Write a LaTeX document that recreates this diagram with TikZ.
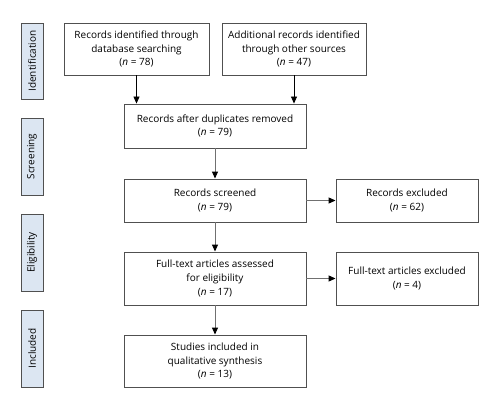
\documentclass[tikz,border=0pt]{standalone}
\usepackage{fontspec}
\setmainfont{Open Sans}
\usetikzlibrary{arrows.meta}
\definecolor{lblue}{HTML}{DCE6F2}
\definecolor{bordergray}{HTML}{505050}
\definecolor{linegray}{HTML}{707070}
\tikzset{
  box/.style={draw=bordergray, line width=0.9pt, fill=white, align=center, inner sep=0pt,
    font=\fontsize{10}{13.8}\selectfont},
  phase/.style={draw=bordergray, line width=1pt, fill=lblue, inner sep=0pt,
    minimum width=22pt, minimum height=77pt, font=\fontsize{10}{11}\selectfont},
  arr/.style={draw=linegray, line width=1pt, -{Triangle[length=7pt,width=6pt,color=black]}},
  arrk/.style={draw=black, line width=0.8pt, -{Triangle[length=7pt,width=6pt,color=black]}}
}
\begin{document}
\begin{tikzpicture}[x=1pt,y=-1pt]
\useasboundingbox (0,0) rectangle (498,410);
% phase labels
\node[phase, minimum height=76pt] (idl) at (32,61) {\rotatebox{90}{Identification}};
\node[phase] (scl) at (32,156.5) {\rotatebox{90}{Screening}};
\node[phase] (ell) at (32,252.5) {\rotatebox{90}{Eligibility}};
\node[phase] (inl) at (32,348.5) {\rotatebox{90}{Included}};
% boxes
\node[box, minimum width=145pt, minimum height=52pt] (db) at (136.5,49)
  {Records identified through\\database searching\\(\textit{n} = 78)};
\node[box, minimum width=144pt, minimum height=52pt] (oth) at (294,49)
  {Additional records identified\\through other sources\\(\textit{n} = 47)};
\node[box, minimum width=182pt, minimum height=44pt] (dup) at (215,126)
  {Records after duplicates removed\\(\textit{n} = 79)};
\node[box, minimum width=182pt, minimum height=43pt] (scr) at (215,200.5)
  {Records screened\\(\textit{n} = 79)};
\node[box, minimum width=142pt, minimum height=43pt] (exc) at (407,200.5)
  {Records excluded\\(\textit{n} = 62)};
\node[box, minimum width=182pt, minimum height=53pt] (ft) at (215,278.5)
  {Full-text articles assessed\\for eligibility\\(\textit{n} = 17)};
\node[box, minimum width=142pt, minimum height=53pt] (fte) at (407,278.5)
  {Full-text articles excluded\\(\textit{n} = 4)};
\node[box, minimum width=182pt, minimum height=52pt] (stu) at (215,361)
  {Studies included in\\qualitative synthesis\\(\textit{n} = 13)};
% connectors
\draw[arrk] (db.south) -- (db.south |- dup.north);
\draw[arrk] (oth.south) -- (oth.south |- dup.north);
\draw[arr] (dup) -- (scr);
\draw[arr] (scr) -- (exc);
\draw[arr] (scr) -- (ft);
\draw[arr] (ft) -- (fte);
\draw[arr] (ft) -- (stu);
\end{tikzpicture}
\end{document}
